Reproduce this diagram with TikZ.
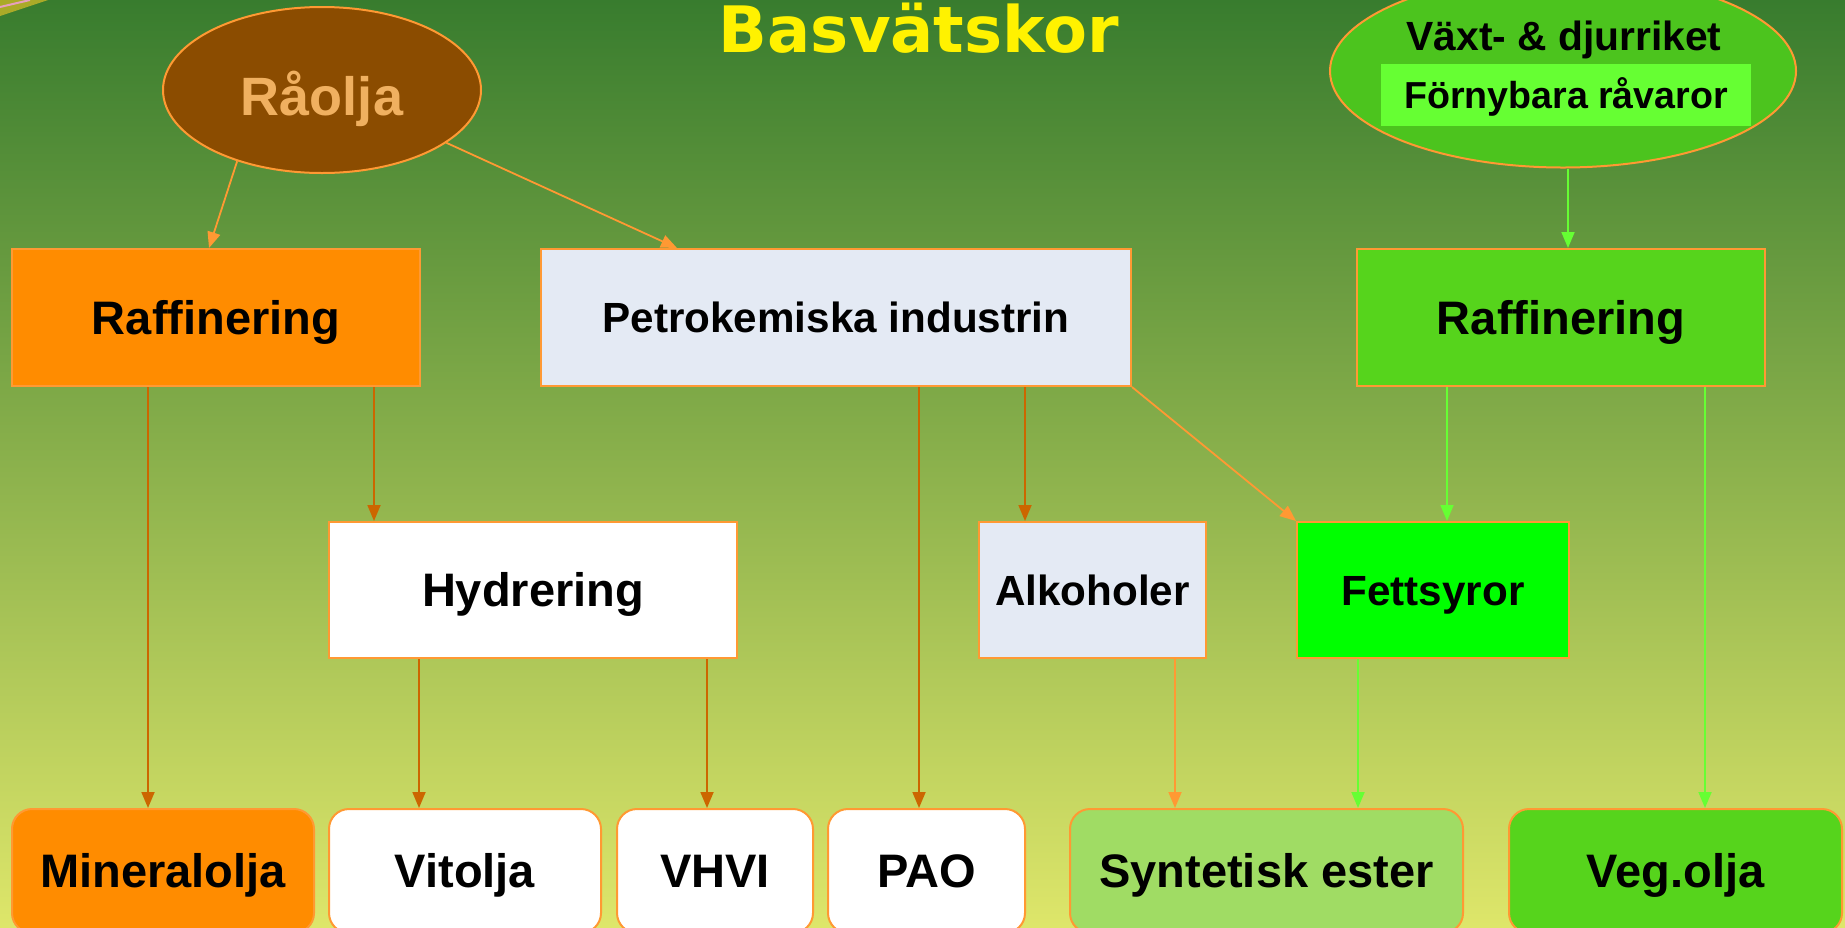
\documentclass[tikz,border=0pt]{standalone}
\usepackage{fontspec}
\setmainfont{Liberation Sans}
\newfontfamily\titlefont{DejaVu Sans}
\usepackage{tikz}
\usetikzlibrary{arrows.meta, shapes.geometric}

\definecolor{bgtop}{RGB}{56,124,46}
\definecolor{bgmid}{RGB}{150,182,108}
\definecolor{bgbot}{RGB}{222,230,106}
\definecolor{rim}{RGB}{255,153,51}
\definecolor{darkarr}{RGB}{204,102,0}
\definecolor{greenarr}{RGB}{102,255,51}
\definecolor{crude}{RGB}{139,76,0}
\definecolor{crudetxt}{RGB}{240,176,96}
\definecolor{orangebox}{RGB}{255,140,0}
\definecolor{greybox}{RGB}{228,234,244}
\definecolor{greenbox}{RGB}{86,212,28}
\definecolor{plantbox}{RGB}{76,196,30}
\definecolor{lightgreen}{RGB}{160,220,100}
\definecolor{renew}{RGB}{102,255,51}
\definecolor{clipolive}{RGB}{170,170,40}
\definecolor{clippink}{RGB}{230,160,190}

\tikzset{
  box/.style={draw=rim, line width=1pt, rectangle, inner sep=0pt, minimum height=68.5pt,
    text height=16.8pt, text depth=0pt, font=\bfseries\fontsize{23.5}{28}\selectfont},
  smallbox/.style={box, text height=15.1pt, font=\bfseries\fontsize{21.1}{25}\selectfont},
  endbox/.style={draw=rim, line width=1pt, rectangle, rounded corners=10pt, inner sep=0pt, minimum height=62pt,
    text height=16.8pt, text depth=0pt, font=\bfseries\fontsize{23.5}{28}\selectfont},
  arr/.style={line width=0.9pt, -{Triangle[length=8pt,width=6.5pt]}},
}

\begin{document}
\begin{tikzpicture}[x=0.5pt, y=-0.5pt]
  \clip (0,0) rectangle (1845,927);
  \shade[top color=bgtop, middle color=bgmid, bottom color=bgbot] (0,0) rectangle (1845,927);

  % corner of a picture
  \fill[clipolive] (0,0) -- (48,0) -- (0,16) -- cycle;
  \draw[clippink, line width=1pt] (0,7) -- (30,0);

  % title
  \node[anchor=base, text=yellow, font=\titlefont\bfseries\fontsize{32}{38}\selectfont] (title) at (919,52) {Basvätskor};

  % sources
  \node[ellipse, draw=rim, line width=1pt, fill=crude, minimum width=159pt, minimum height=83pt, inner sep=0pt,
        text height=25.3pt, text depth=0pt, text=crudetxt, font=\bfseries\fontsize{27}{32}\selectfont] (raolja) at (322,90) {Råolja};
  \node[ellipse, draw=rim, line width=1pt, fill=plantbox, minimum width=233pt, minimum height=96.5pt, inner sep=0pt] (vaxt) at (1563,71) {};
  \node[anchor=base, font=\bfseries\fontsize{20.4}{24}\selectfont] (vaxttxt) at (1564,50) {Växt- \& djurriket};
  \node[fill=renew, minimum width=185pt, minimum height=31pt, inner sep=0pt, text height=13.5pt, text depth=0pt,
        font=\bfseries\fontsize{18.8}{22}\selectfont] (fornyb) at (1566,95) {Förnybara råvaror};

  % processes
  \node[box, fill=orangebox, minimum width=204pt] (raf1) at (216,317.5) {Raffinering};
  \node[smallbox, fill=greybox, minimum width=295pt] (petro) at (836,317.5) {Petrokemiska industrin};
  \node[box, fill=greenbox, minimum width=204pt] (raf2) at (1561,317.5) {Raffinering};

  \node[box, fill=white, minimum width=204pt, minimum height=68pt] (hyd) at (533,590) {Hydrering};
  \node[smallbox, fill=greybox, minimum width=113.5pt, minimum height=68pt] (alk) at (1092.5,590) {Alkoholer};
  \node[smallbox, fill=green, minimum width=136pt, minimum height=68pt] (fett) at (1433,590) {Fettsyror};

  % base fluids
  \node[endbox, fill=orangebox, minimum width=151pt] (mineral) at (163,871) {Mineralolja};
  \node[endbox, fill=white, minimum width=136pt] (vit) at (465,871) {Vitolja};
  \node[endbox, fill=white, minimum width=98pt] (vhvi) at (715,871) {VHVI};
  \node[endbox, fill=white, minimum width=98.5pt] (pao) at (926.5,871) {PAO};
  \node[endbox, fill=lightgreen, minimum width=196.5pt] (synt) at (1266.5,871) {Syntetisk ester};
  \node[endbox, fill=greenbox, minimum width=166.5pt] (veg) at (1675.5,871) {Veg.olja};

  % connectors
  \draw[arr, rim] (raolja.220) -- ([xshift=-3.5pt]raf1.north);
  \draw[arr, rim] (raolja.337) -- ([xshift=-79.5pt]petro.north);

  \draw[arr, darkarr] (raf1.south -| 148,0) -- (mineral.north -| 148,0);
  \draw[arr, darkarr] (raf1.south -| 374,0) -- (hyd.north -| 374,0);
  \draw[arr, darkarr] (hyd.south -| 419,0) -- (vit.north -| 419,0);
  \draw[arr, darkarr] (hyd.south -| 707,0) -- (vhvi.north -| 707,0);
  \draw[arr, darkarr] (petro.south -| 919,0) -- (pao.north -| 919,0);
  \draw[arr, darkarr] (petro.south -| 1025,0) -- (alk.north -| 1025,0);

  \draw[arr, rim] (petro.south east) -- (fett.north west);
  \draw[arr, rim] (alk.south -| 1175,0) -- (synt.north -| 1175,0);

  \draw[arr, greenarr] (vaxt.south -| 1568,0) -- (raf2.north -| 1568,0);
  \draw[arr, greenarr] (raf2.south -| 1447,0) -- (fett.north -| 1447,0);
  \draw[arr, greenarr] (raf2.south -| 1705,0) -- (veg.north -| 1705,0);
  \draw[arr, greenarr] (fett.south -| 1358,0) -- (synt.north -| 1358,0);
\end{tikzpicture}
\end{document}
